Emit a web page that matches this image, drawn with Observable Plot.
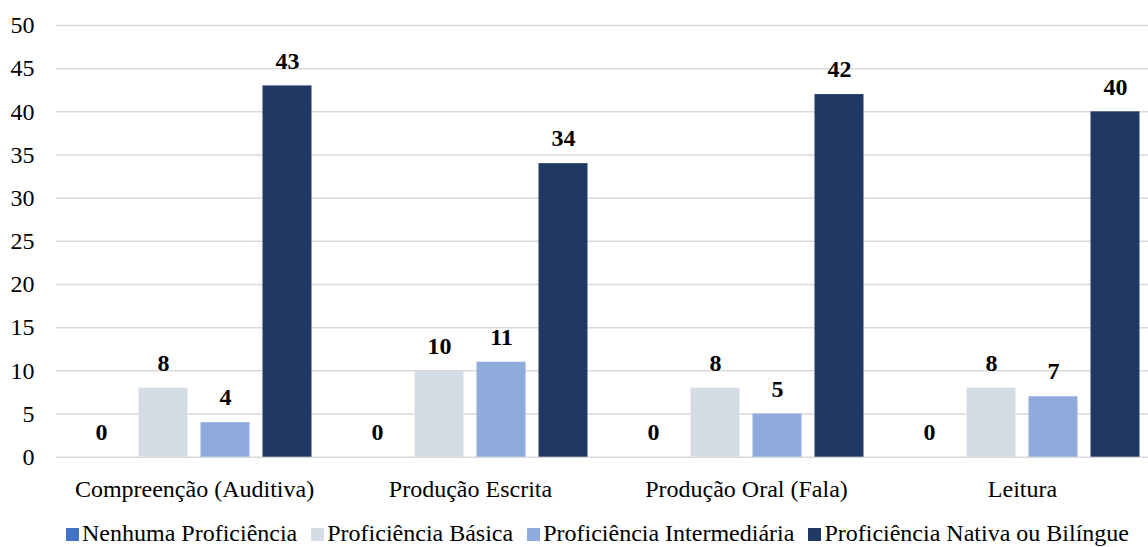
<!DOCTYPE html>
<html>
<head>
<meta charset="utf-8">
<script src="https://cdn.jsdelivr.net/npm/d3@7"></script>
<script src="https://cdn.jsdelivr.net/npm/@observablehq/plot@0.6"></script>
<style>
  html, body { margin: 0; padding: 0; background: #fff; overflow: hidden; }
  #wrap { position: relative; width: 1148px; height: 547px; }
  #legend {
    position: absolute; left: 66px; top: 521px;
    font-family: "Liberation Serif", "Times New Roman", serif;
    font-size: 24px; line-height: 24px; color: #000; white-space: nowrap;
  }
  #legend .item { display: inline-block; margin-right: 14px; }
  #legend .sw { display: inline-block; width: 13px; height: 13px; margin-right: 3px; }
</style>
</head>
<body>
<div id="wrap">
  <div id="chart"></div>
  <div id="legend"></div>
</div>
<script>
// Skill areas (groups) and proficiency levels (series)
const categories = ["Compreenção (Auditiva)", "Produção Escrita", "Produção Oral (Fala)", "Leitura"];
const series = ["Nenhuma Proficiência", "Proficiência Básica", "Proficiência Intermediária", "Proficiência Nativa ou Bilíngue"];
const colors = ["#4472C4", "#D6DCE5", "#8FAADC", "#203864"];

// Number of respondents per level, one value per skill area
const nenhuma = [0, 0, 0, 0];
const basica = [8, 10, 8, 8];
const intermediaria = [4, 11, 5, 7];
const nativa = [43, 34, 42, 40];

const yTicks = [0, 5, 10, 15, 20, 25, 30, 35, 40, 45, 50];

const seriesValues = [nenhuma, basica, intermediaria, nativa];
const rows = [];
categories.forEach((c, i) => {
  series.forEach((s, j) => rows.push({ category: c, level: s, value: seriesValues[j][i] }));
});

const chart = Plot.plot({
  width: 1148,
  height: 515,
  marginTop: 25,
  marginBottom: 58.3,
  marginLeft: 54.5,
  marginRight: 0,
  style: { fontFamily: "Liberation Serif, Times New Roman, serif", fontSize: "24px", color: "#000", background: "#fff" },
  fx: { domain: categories, range: [54.5, 1161], padding: 0, label: null, axis: null },
  x: { domain: series, paddingInner: 0.211, paddingOuter: 0.3, axis: null },
  y: { domain: [0, 50], label: null, axis: null },
  color: { domain: series, range: colors },
  marks: [
    Plot.ruleY(yTicks, { stroke: "#d9d9d9", strokeWidth: 1.5 }),
    Plot.barY(rows, { fx: "category", x: "level", y: "value", fill: "level" }),
    Plot.text(rows, {
      fx: "category", x: "level", y: "value", text: d => String(d.value),
      fontWeight: "bold", fontSize: 24, dy: -25, fill: "#000"
    }),
    Plot.axisY(yTicks, { tickSize: 0, tickPadding: 22, fontSize: 24, label: null }),
    Plot.axisFx({ anchor: "bottom", tickSize: 0, tickPadding: 23, fontSize: 24, label: null })
  ]
});
document.getElementById("chart").appendChild(chart);

// Legend below the chart
const legend = document.getElementById("legend");
series.forEach((s, i) => {
  const item = document.createElement("span");
  item.className = "item";
  const sw = document.createElement("span");
  sw.className = "sw";
  sw.style.background = colors[i];
  item.appendChild(sw);
  item.appendChild(document.createTextNode(s));
  legend.appendChild(item);
});
</script>
</body>
</html>
